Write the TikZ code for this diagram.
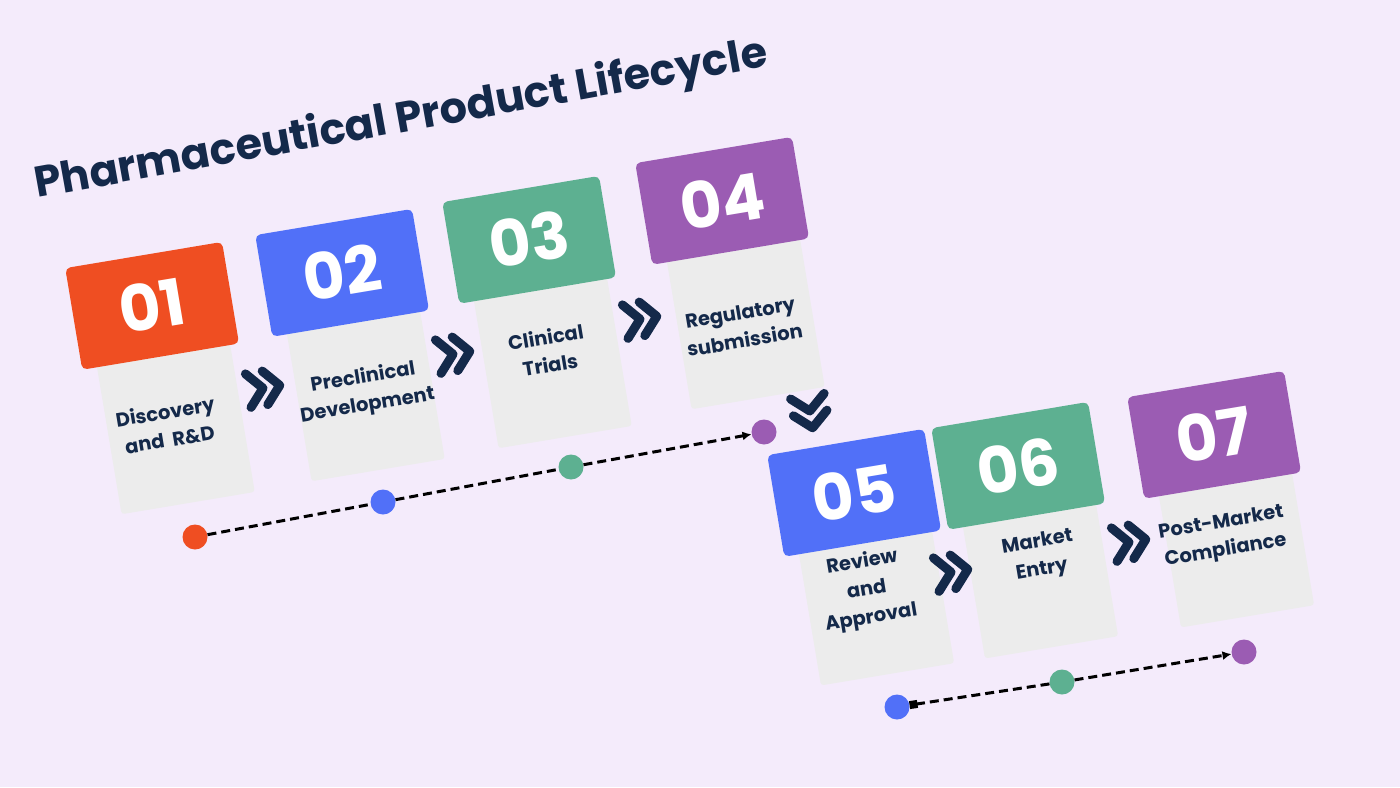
\documentclass[tikz,border=0pt]{standalone}
\usepackage{fontspec}
\setmainfont{Poppins}
\usetikzlibrary{arrows.meta}
\definecolor{bgc}{HTML}{F4EBFB}
\definecolor{corange}{HTML}{EF4E22}
\definecolor{cblue}{HTML}{5170F8}
\definecolor{cgreen}{HTML}{5DB091}
\definecolor{cpurple}{HTML}{9B5CB3}
\definecolor{navy}{HTML}{14294A}
\definecolor{bodygray}{HTML}{ECECEC}
\tikzset{
  headbox/.style={rectangle, rounded corners=5pt, minimum width=159pt, minimum height=103pt, inner sep=0pt, text=white, font=\fontsize{64}{64}\selectfont\bfseries},
  bodybox/.style={rectangle, rounded corners=3pt, fill=bodygray, minimum width=135pt, inner sep=0pt},
  labeltext/.style={align=center, text=navy, inner sep=0pt, font=\fontsize{19.5}{28}\selectfont\bfseries},
  titletext/.style={text=navy, inner sep=0pt, font=\fontsize{43}{50}\selectfont\bfseries},
  dotnode/.style={circle, minimum size=25pt, inner sep=0pt},
  chevline/.style={draw=navy, line width=9pt, line cap=round, line join=round},
  dashline/.style={draw=black, line width=3pt, dash pattern=on 9pt off 5pt},
  endtip/.style={-{Latex[length=9pt,width=9pt]}},
}
\newcommand{\pstage}[9]{%
  \begin{scope}[shift={(#2,#3)}, rotate=9.5, transform shape]
    \node[bodybox, anchor=north west, minimum height={#9pt-40pt}] (#1b) at (15,40) {};
    \node[headbox, fill=#4, anchor=north west] (#1h) at (0,0) {#5};
    \node[labeltext] (#1l) at (#7,#8) {#6};
  \end{scope}}
\newcommand{\chevpair}[4]{%
  \begin{scope}[shift={(#2,#3)}, rotate=#4]
    \coordinate (#1) at (0,0);
    \draw[chevline] (-16,-17) -- (-1,0) -- (-16,17);
    \draw[chevline] (1,-17) -- (16,0) -- (1,17);
  \end{scope}}
\begin{document}
\begin{tikzpicture}[x=1pt,y=-1pt]
\fill[bgc] (0,0) rectangle (1400,787);
\useasboundingbox (0,0) rectangle (1400,787);

\node[titletext, rotate=10.2, anchor=base west] (title) at (37,198) {Pharmaceutical Product Lifecycle};

\pstage{s1}{65}{268}{corange}{01}{Discovery\\and\ \ R\&D}{75}{172}{252}
\pstage{s2}{255}{235}{cblue}{02}{Preclinical\\Development}{83}{173}{252}
\pstage{s3}{442}{202}{cgreen}{03}{Clinical\\Trials}{80}{164}{252}
\pstage{s4}{635}{163}{cpurple}{04}{Regulatory\\submission}{79}{179}{252}
\pstage{s7}{1127}{397}{cpurple}{07}{Post-Market\\Compliance}{72}{154}{236}
\pstage{s6}{931}{428}{cgreen}{06}{Market\\Entry}{86}{145}{236}
\pstage{s5}{767}{455}{cblue}{05}{Review\\and\\Approval}{76}{150}{236}

\chevpair{c12}{264}{388}{9.5}
\chevpair{c23}{454}{354}{9.5}
\chevpair{c34}{641}{319}{9.5}
\chevpair{c45}{810}{412}{-80.5}
\chevpair{c56}{952}{572}{9.5}
\chevpair{c67}{1130}{542}{9.5}

\node[dotnode, fill=corange] (d1) at (195,537) {};
\node[dotnode, fill=cblue] (d2) at (383,502) {};
\node[dotnode, fill=cgreen] (d3) at (571,467) {};
\node[dotnode, fill=cpurple] (d4) at (764,432) {};
\draw[dashline] (d1) -- (d2);
\draw[dashline] (d2) -- (d3);
\draw[dashline, endtip] (d3) -- (d4);

\node[dotnode, fill=cblue] (e1) at (897,707) {};
\node[dotnode, fill=cgreen] (e2) at (1062,682) {};
\node[dotnode, fill=cpurple] (e3) at (1244,652) {};
\draw[dashline, {Square[length=8pt,width=8pt]}-] (e1) -- (e2);
\draw[dashline, endtip] (e2) -- (e3);
\end{tikzpicture}
\end{document}
